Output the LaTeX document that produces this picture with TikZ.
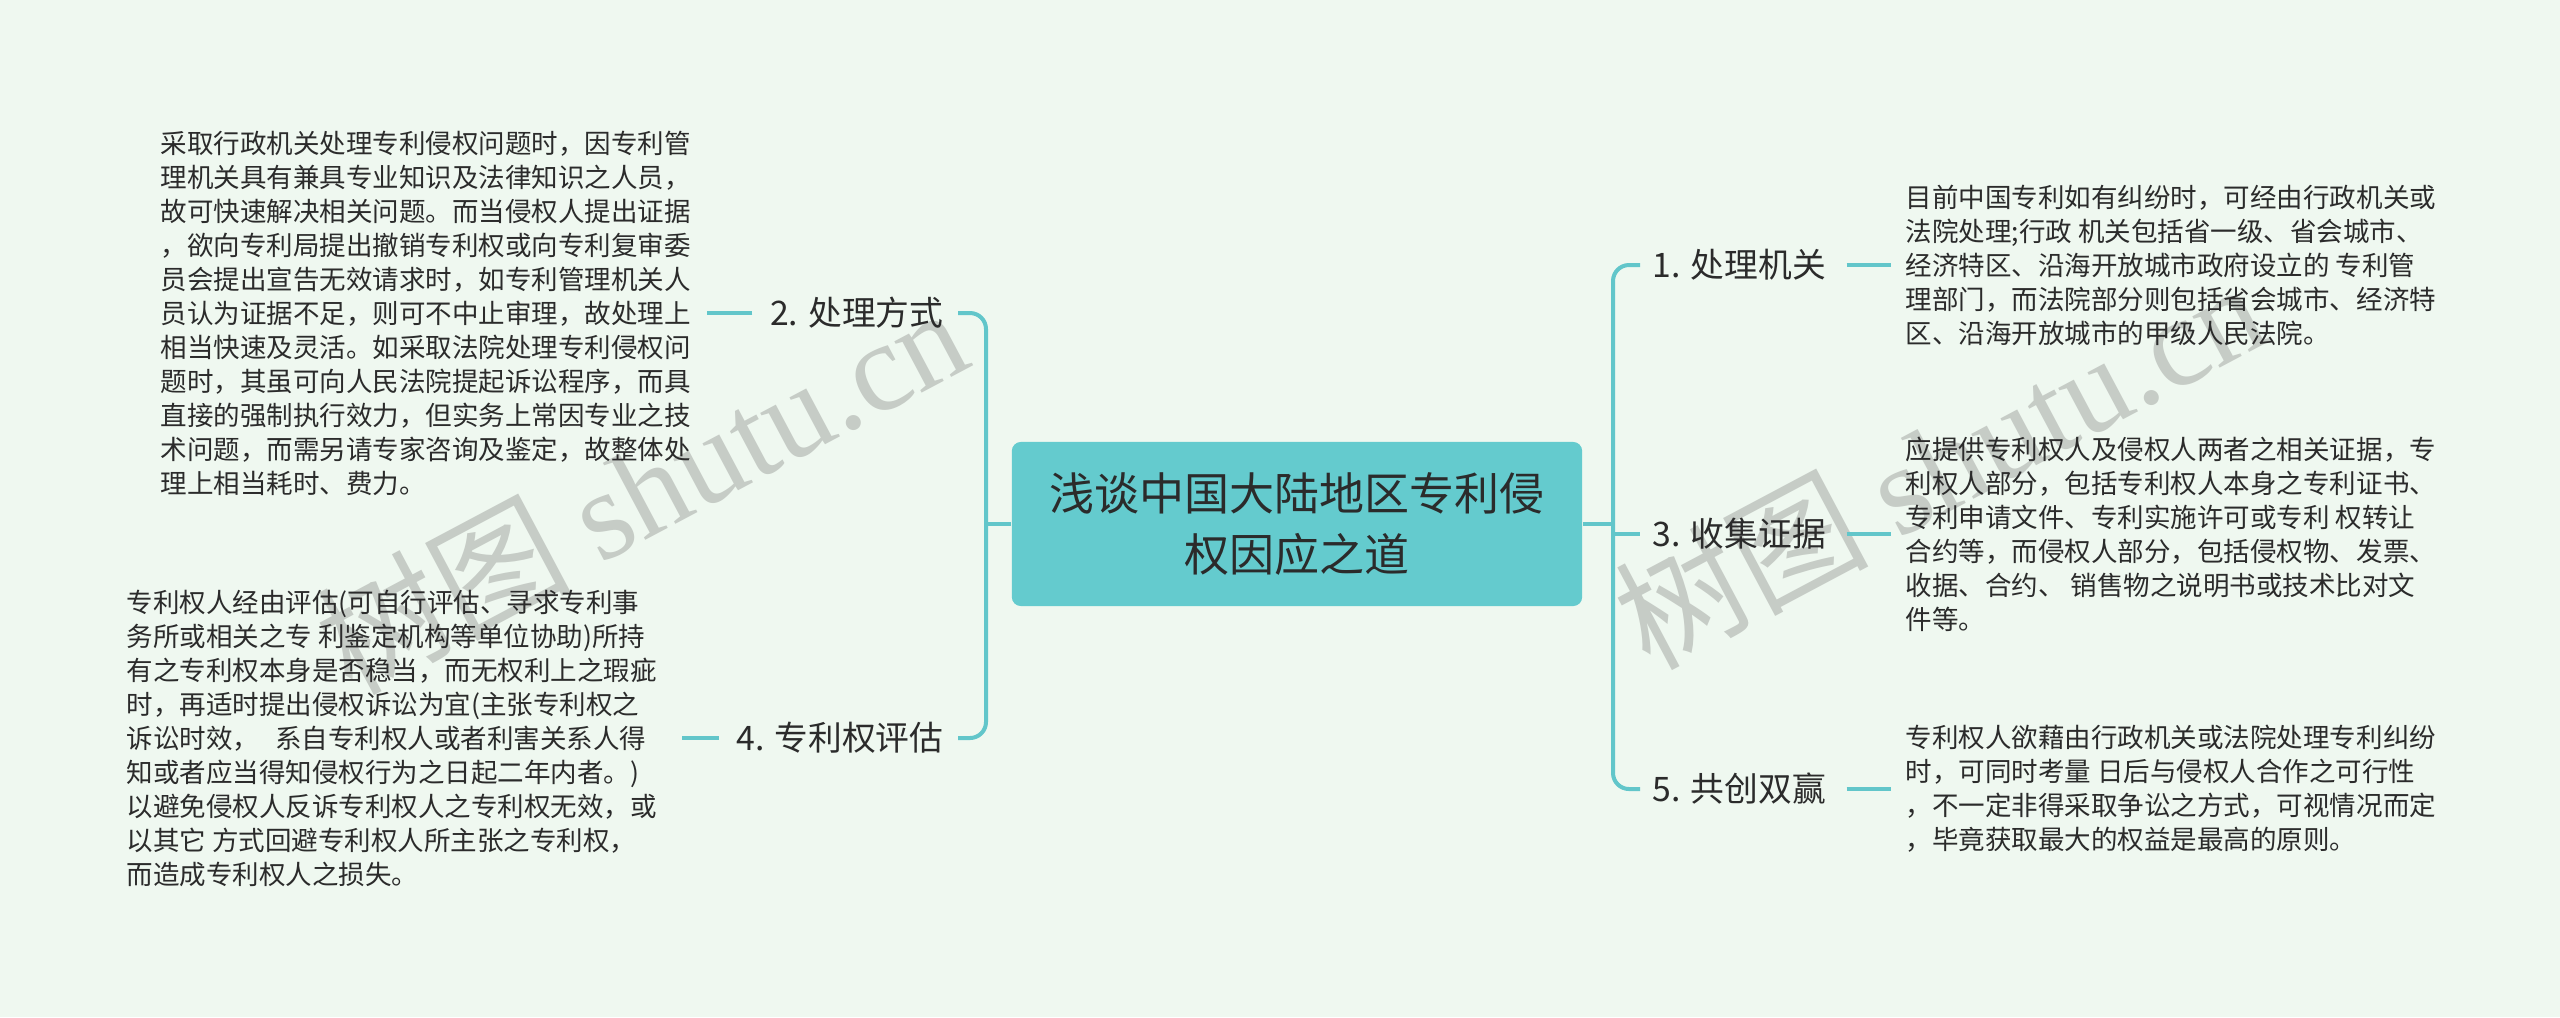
\documentclass[tikz,border=0pt]{standalone}
\usepackage{fontspec}
\setmainfont{Noto Sans CJK SC}
\newfontfamily\wmserif{Liberation Serif}
\definecolor{bg}{HTML}{EFF8F0}
\definecolor{lineteal}{HTML}{62C6CA}
\definecolor{rootfill}{HTML}{64CBCE}
\definecolor{txt}{HTML}{2B2B2B}
\definecolor{wm}{HTML}{C6CCC6}
\begin{document}
\begin{tikzpicture}[x=0.01cm,y=-0.01cm,
  conn/.style={draw=lineteal, line width=0.04cm},
  bracket/.style={conn, rounded corners=0.16cm},
  rootbox/.style={fill=rootfill, rounded corners=0.09cm, minimum width=5.70cm, minimum height=1.64cm, align=center, text=txt, font=\fontsize{12.8pt}{17.6pt}\selectfont, inner sep=0},
  branch/.style={text=txt, font=\fontsize{9.6pt}{11.5pt}\selectfont, inner sep=0},
  leaf/.style={text=txt, align=left, font=\fontsize{7.54pt}{9.67pt}\selectfont, inner sep=0},
  wmark/.style={text=wm, rotate=28, inner sep=0, font=\fontsize{36pt}{40pt}\selectfont}]
\fill[bg] (0,0) rectangle (2560,1017);
\useasboundingbox (0,0) rectangle (2560,1017);

% watermarks
\node[wmark] (wm1) at (641,488) {树图 {\wmserif shutu.cn}};
\node[wmark] (wm2) at (1939,463) {树图 {\wmserif shutu.cn}};

% root
\node[rootbox] (root) at (1297,524) {浅谈中国大陆地区专利侵\\权因应之道};

% branches
\node[branch, anchor=east] (b2) at (944,313) {2. 处理方式};
\node[branch, anchor=east] (b4) at (944,738) {4. 专利权评估};
\node[branch, anchor=west] (b1) at (1652,265) {1. 处理机关};
\node[branch, anchor=west] (b3) at (1652,534) {3. 收集证据};
\node[branch, anchor=west] (b5) at (1652,789) {5. 共创双赢};

% leaves
\node[leaf, anchor=west] (t2) at (160,313) {采取行政机关处理专利侵权问题时，因专利管\\
理机关具有兼具专业知识及法律知识之人员，\\
故可快速解决相关问题。而当侵权人提出证据\\
，欲向专利局提出撤销专利权或向专利复审委\\
员会提出宣告无效请求时，如专利管理机关人\\
员认为证据不足，则可不中止审理，故处理上\\
相当快速及灵活。如采取法院处理专利侵权问\\
题时，其虽可向人民法院提起诉讼程序，而具\\
直接的强制执行效力，但实务上常因专业之技\\
术问题，而需另请专家咨询及鉴定，故整体处\\
理上相当耗时、费力。};

\node[leaf, anchor=west] (t4) at (126,738) {专利权人经由评估(可自行评估、寻求专利事\\
务所或相关之专 利鉴定机构等单位协助)所持\\
有之专利权本身是否稳当，而无权利上之瑕疵\\
时，再适时提出侵权诉讼为宜(主张专利权之\\
诉讼时效，\hspace{0.6em}系自专利权人或者利害关系人得\\
知或者应当得知侵权行为之日起二年内者。)\\
以避免侵权人反诉专利权人之专利权无效，或\\
以其它 方式回避专利权人所主张之专利权，\\
而造成专利权人之损失。};

\node[leaf, anchor=west] (t1) at (1905,265) {目前中国专利如有纠纷时，可经由行政机关或\\
法院处理;行政 机关包括省一级、省会城市、\\
经济特区、沿海开放城市政府设立的 专利管\\
理部门，而法院部分则包括省会城市、经济特\\
区、沿海开放城市的甲级人民法院。};

\node[leaf, anchor=west] (t3) at (1905,534) {应提供专利权人及侵权人两者之相关证据，专\\
利权人部分，包括专利权人本身之专利证书、\\
专利申请文件、专利实施许可或专利 权转让\\
合约等，而侵权人部分，包括侵权物、发票、\\
收据、合约、 销售物之说明书或技术比对文\\
件等。};

\node[leaf, anchor=west] (t5) at (1905,789) {专利权人欲藉由行政机关或法院处理专利纠纷\\
时，可同时考量 日后与侵权人合作之可行性\\
，不一定非得采取争讼之方式，可视情况而定\\
，毕竟获取最大的权益是最高的原则。};

% connectors
\coordinate (Lbus) at (986,524);
\coordinate (Rbus) at (1613,524);
\draw[conn] (root.west) -- (Lbus);
\draw[bracket] ([xshift=0.14cm]b2.east) -| (Lbus) |- ([xshift=0.14cm]b4.east);
\draw[conn] (root.east) -- (Rbus);
\draw[bracket] ([xshift=-0.12cm]b1.west) -| (Rbus) |- ([xshift=-0.12cm]b5.west);
\draw[conn] (Rbus |- b3.west) -- ([xshift=-0.12cm]b3.west);

\draw[conn] ([xshift=-0.17cm]b2.west) -- ([xshift=0.15cm]t2.east);
\draw[conn] ([xshift=-0.17cm]b4.west) -- ([xshift=0.24cm]t4.east);
\draw[conn] ([xshift=0.2cm]b1.east) -- ([xshift=-0.14cm]t1.west);
\draw[conn] ([xshift=0.2cm]b3.east) -- ([xshift=-0.14cm]t3.west);
\draw[conn] ([xshift=0.2cm]b5.east) -- ([xshift=-0.14cm]t5.west);
\end{tikzpicture}
\end{document}
